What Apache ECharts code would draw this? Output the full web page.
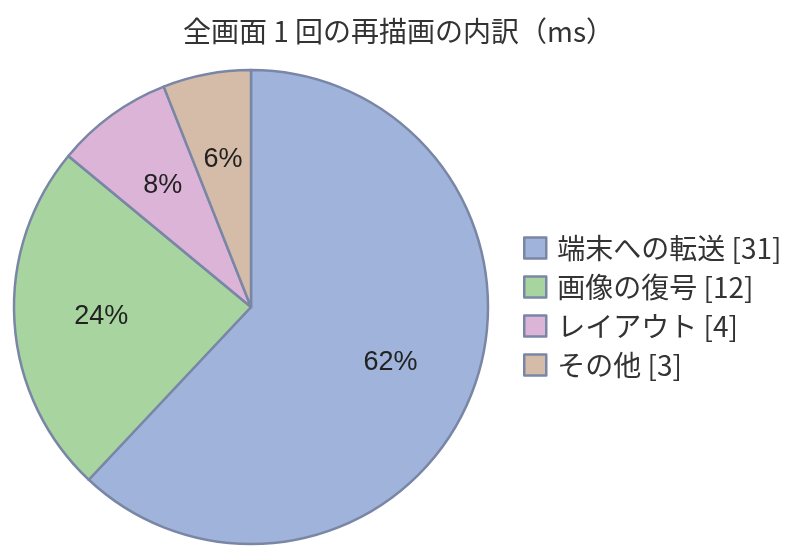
<!DOCTYPE html>
<html>
<head>
<meta charset="utf-8">
<script src="https://cdn.jsdelivr.net/npm/echarts@6/dist/echarts.min.js"></script>
<style>
  html, body { margin: 0; padding: 0; background: #fff; }
  #chart { width: 797px; height: 560px; }
</style>
</head>
<body>
<div id="chart"></div>
<script>
// 数据
var names = ['端末への転送', '画像の復号', 'レイアウト', 'その他'];
var values = [31, 12, 4, 3];
var colors = ['#a0b3da', '#a8d4a0', '#dcb4d8', '#d5bca8'];

(function() {
  var myChart = echarts.init(document.getElementById('chart'));
  var total = values.reduce(function(a, b) { return a + b; }, 0);
  var pieData = names.map(function(n, i) {
    return { name: n, value: values[i] };
  });
  var option = {
    color: colors,
    animation: false,
    title: {
      text: '全画面 1 回の再描画の内訳（ms）',
      left: 'center',
      top: 12,
      textStyle: {
        color: '#333',
        fontSize: 28,
        fontWeight: 'normal',
        fontFamily: 'Noto Sans CJK JP'
      }
    },
    legend: {
      orient: 'vertical',
      left: 518,
      top: 229,
      icon: 'rect',
      itemWidth: 22,
      itemHeight: 21,
      itemGap: 11,
      data: names,
      formatter: function(name) {
        return name + ' [' + values[names.indexOf(name)] + ']';
      },
      textStyle: {
        color: '#333',
        fontSize: 28,
        fontFamily: 'Noto Sans CJK JP',
        padding: [0, 0, 0, 6]
      },
      itemStyle: {
        borderColor: '#7a86a6',
        borderWidth: 2.5
      }
    },
    series: [
      {
        name: '内訳',
        type: 'pie',
        center: [251, 307],
        radius: [0, 237],
        startAngle: 90,
        clockwise: true,
        label: { show: false },
        labelLine: { show: false },
        itemStyle: {
          borderColor: '#7a86a6',
          borderWidth: 2.5
        },
        data: pieData
      },
      {
        // 标签层（透明）
        name: 'label',
        type: 'pie',
        center: [251, 307],
        radius: [57, 237],
        startAngle: 90,
        clockwise: true,
        silent: true,
        legendHoverLink: false,
        itemStyle: { color: 'rgba(0,0,0,0)', borderWidth: 0 },
        label: {
          show: true,
          position: 'inside',
          color: '#222',
          fontSize: 27,
          fontFamily: 'Liberation Sans',
          formatter: function(p) {
            return Math.round(p.value / total * 100) + '%';
          }
        },
        labelLine: { show: false },
        data: pieData.map(function(d) {
          return { name: d.name + ' ', value: d.value };
        })
      }
    ]
  };
  myChart.setOption(option);
})();
</script>
</body>
</html>
